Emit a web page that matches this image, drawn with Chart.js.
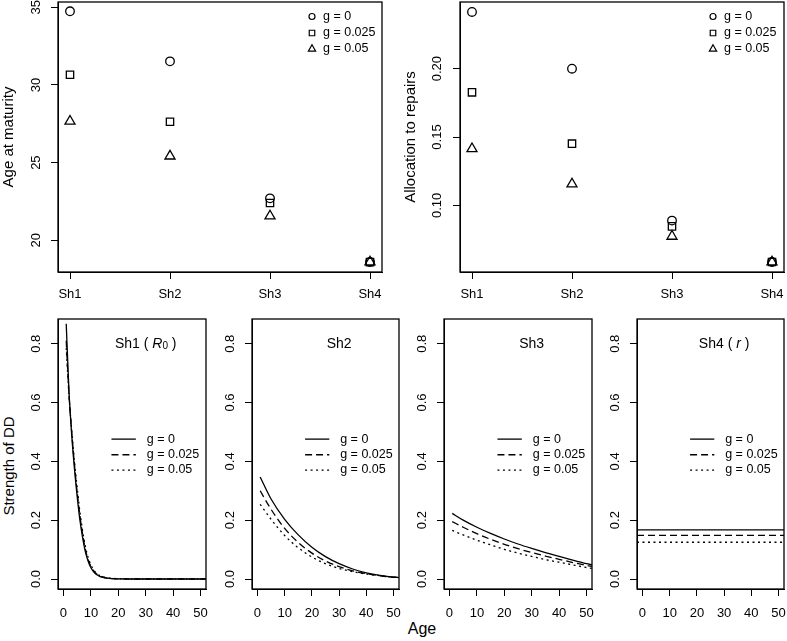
<!DOCTYPE html>
<html>
<head>
<meta charset="utf-8">
<script src="https://cdn.jsdelivr.net/npm/chart.js@4.4.1/dist/chart.umd.min.js"></script>
<style>
html,body{margin:0;padding:0;background:#fff;width:787px;height:641px;overflow:hidden;position:relative;}
.panel{position:absolute;}
.lbl{position:absolute;color:#000;white-space:nowrap;font-family:"Liberation Sans",Arial,Helvetica,sans-serif;line-height:1;}
</style>
</head>
<body>
<div class="lbl" id="ylabDD" style="left:8px;top:466px;font-size:15px;transform:translate(-50%,-50%) rotate(-90deg);">Strength of DD</div>
<div class="lbl" id="xlabAge" style="left:422px;top:621px;font-size:16px;transform:translate(-50%,0);">Age</div>
<script>
// ---------------- data ----------------
const shapeCats = ['Sh1', 'Sh2', 'Sh3', 'Sh4'];
const shapePos = [1, 2, 3, 4];
const gLabels = ['g = 0', 'g = 0.025', 'g = 0.05'];

// Top-left: age at maturity
const ageMat_g0   = [34.74, 31.52, 22.70, 18.60];
const ageMat_g025 = [30.66, 27.63, 22.40, 18.60];
const ageMat_g05  = [27.66, 25.42, 21.56, 18.60];
const ageMatTicks = [20, 25, 30, 35];
const ageMatTickLabels = ['20', '25', '30', '35'];

// Top-right: allocation to repairs
const repair_g0   = [0.2415, 0.2000, 0.0888, 0.0585];
const repair_g025 = [0.1827, 0.1451, 0.0846, 0.0585];
const repair_g05  = [0.1414, 0.1156, 0.0773, 0.0585];
const repairTicks = [0.10, 0.15, 0.20];
const repairTickLabels = ['0.10', '0.15', '0.20'];

// Bottom: strength of density dependence vs age
const ageSh1 = [1, 2, 3, 4, 5, 6, 7, 8, 9, 10, 11, 12, 13, 14, 15, 16, 18, 20, 25, 30, 40, 52];
const sh1_g0   = [0.868, 0.64, 0.49, 0.375, 0.28, 0.20, 0.14, 0.092, 0.060, 0.038, 0.024, 0.015, 0.010, 0.006, 0.004, 0.003, 0.001, 0.0005, 0, 0, 0, 0];
const sh1_g025 = [0.810, 0.63, 0.50, 0.390, 0.295, 0.215, 0.150, 0.100, 0.066, 0.043, 0.028, 0.018, 0.012, 0.008, 0.005, 0.003, 0.0015, 0.0005, 0, 0, 0, 0];
const sh1_g05  = [0.785, 0.625, 0.505, 0.400, 0.310, 0.228, 0.162, 0.110, 0.073, 0.048, 0.031, 0.020, 0.013, 0.009, 0.006, 0.004, 0.002, 0.001, 0, 0, 0, 0];

const ageSh23 = [1, 5, 10, 15, 20, 25, 30, 35, 40, 45, 50, 52];
const sh2_g0   = [0.347, 0.272, 0.203, 0.150, 0.108, 0.076, 0.052, 0.034, 0.021, 0.012, 0.006, 0.005];
const sh2_g025 = [0.300, 0.237, 0.172, 0.124, 0.088, 0.061, 0.042, 0.028, 0.018, 0.011, 0.006, 0.005];
const sh2_g05  = [0.254, 0.203, 0.148, 0.106, 0.075, 0.052, 0.036, 0.025, 0.017, 0.011, 0.006, 0.005];

const sh3_g0   = [0.223, 0.200, 0.176, 0.155, 0.136, 0.119, 0.104, 0.090, 0.077, 0.064, 0.052, 0.048];
const sh3_g025 = [0.195, 0.176, 0.154, 0.135, 0.118, 0.103, 0.090, 0.078, 0.067, 0.056, 0.046, 0.043];
const sh3_g05  = [0.165, 0.150, 0.132, 0.116, 0.101, 0.088, 0.077, 0.066, 0.057, 0.048, 0.039, 0.036];

const ageSh4 = [-2, 52];
const sh4_g0   = [0.167, 0.167];
const sh4_g025 = [0.148, 0.148];
const sh4_g05  = [0.125, 0.125];

const ageTicks = [0, 10, 20, 30, 40, 50];
const ddTicks = [0, 0.2, 0.4, 0.6, 0.8];
const ddTickLabels = ['0.0', '0.2', '0.4', '0.6', '0.8'];

// ---------------- drawing ----------------
const FONT = '"Liberation Sans", Arial, Helvetica, sans-serif';
const TICK = 13;
Chart.defaults.font.family = FONT;
Chart.defaults.color = '#000';

const pointStyles = ['circle', 'rect', 'triangle'];
const pointRadii = [4.3, 5.2, 5.8];
const legendRadii = [3.0, 3.9, 4.2];
const dashes = [[], [7, 4], [2, 3.5]];

function pts(xs, ys) { return xs.map((x, i) => ({x: x, y: ys[i]})); }

function drawMarker(ctx, style, r, x, y) {
  ctx.beginPath();
  if (style === 'circle') {
    ctx.arc(x, y, r, 0, Math.PI * 2);
  } else if (style === 'rect') {
    const s = Math.SQRT1_2 * r;
    ctx.rect(x - s, y - s, 2 * s, 2 * s);
  } else {
    const w = r * Math.sqrt(3) / 2;
    ctx.moveTo(x, y - r);
    ctx.lineTo(x + w, y + r / 2);
    ctx.lineTo(x - w, y + r / 2);
    ctx.closePath();
  }
  ctx.stroke();
}

function makePanel(cfg) {
  const ML = 60, MT = 20, MR = 25, MB = 50;
  const w = (cfg.R - cfg.L) + ML + MR, h = (cfg.B - cfg.T) + MT + MB;
  const div = document.createElement('div');
  div.className = 'panel';
  div.style.left = (cfg.L - ML) + 'px';
  div.style.top = (cfg.T - MT) + 'px';
  div.style.width = w + 'px';
  div.style.height = h + 'px';
  const cv = document.createElement('canvas');
  cv.width = w; cv.height = h;
  cv.style.width = w + 'px'; cv.style.height = h + 'px';
  div.appendChild(cv);
  document.body.appendChild(div);

  const notes = {
    id: 'notes',
    afterDraw(chart) {
      const ctx = chart.ctx, a = chart.chartArea, xs = chart.scales.x, ys = chart.scales.y;
      ctx.save();
      ctx.strokeStyle = '#000';
      ctx.lineWidth = 1.3;
      ctx.setLineDash([]);
      ctx.strokeRect(a.left, a.top, a.right - a.left, a.bottom - a.top);
      // rotated y tick labels
      ctx.fillStyle = '#000';
      ctx.font = TICK + 'px ' + FONT;
      ctx.textAlign = 'center';
      ctx.textBaseline = 'middle';
      cfg.yTicks.forEach((v, i) => {
        const py = ys.getPixelForValue(v);
        ctx.save();
        ctx.translate(a.left - cfg.yLabOff, py);
        ctx.rotate(-Math.PI / 2);
        ctx.fillText(cfg.yTickLabels[i], 0, 0);
        ctx.restore();
      });
      // panel title
      if (cfg.title) {
        const segs = cfg.title;
        const size = 14;
        const fontFor = s => (s.it ? 'italic ' : '') + (s.sub ? 10 : size) + 'px ' + FONT;
        let total = 0;
        segs.forEach(s => { ctx.font = fontFor(s); total += ctx.measureText(s.t).width; });
        let x = xs.getPixelForValue(cfg.titleAt[0]) - total / 2;
        const y = ys.getPixelForValue(cfg.titleAt[1]);
        ctx.textAlign = 'left';
        ctx.textBaseline = 'middle';
        segs.forEach(s => {
          ctx.font = fontFor(s);
          ctx.fillText(s.t, x, y + (s.sub ? 3 : 0));
          x += ctx.measureText(s.t).width;
        });
      }
      // legends
      ctx.font = '12.5px ' + FONT;
      ctx.textAlign = 'left';
      ctx.textBaseline = 'middle';
      ctx.lineWidth = 1.2;
      if (cfg.pointLegend) {
        const lg = cfg.pointLegend;
        gLabels.forEach((lab, i) => {
          const y = a.top + lg.rows[i];
          drawMarker(ctx, pointStyles[i], legendRadii[i], a.right - lg.sym, y);
          ctx.fillText(lab, a.right - lg.txt, y);
        });
      }
      if (cfg.lineLegend) {
        const lg = cfg.lineLegend;
        gLabels.forEach((lab, i) => {
          const y = ys.getPixelForValue(lg.rows[i]);
          ctx.setLineDash(dashes[i]);
          ctx.lineWidth = 1.3;
          ctx.beginPath();
          ctx.moveTo(xs.getPixelForValue(lg.x0), y);
          ctx.lineTo(xs.getPixelForValue(lg.x1), y);
          ctx.stroke();
          ctx.setLineDash([]);
          ctx.fillText(lab, xs.getPixelForValue(lg.xt), y);
        });
      }
      ctx.restore();
    }
  };

  const yScale = {
    type: 'linear', min: cfg.yMin, max: cfg.yMax,
    afterBuildTicks: s => { s.ticks = cfg.yTicks.map(v => ({value: v})); },
    afterFit: s => { s.width = ML; },
    ticks: {display: false},
    grid: {drawOnChartArea: false, drawTicks: true, tickLength: 7, color: '#000', lineWidth: 1},
    border: {display: true, color: '#000', width: 1}
  };
  if (cfg.yTitle) {
    yScale.title = {display: true, text: cfg.yTitle, color: '#000', font: {size: 15, family: FONT}, padding: {top: 1.5, bottom: 0}};
  }

  new Chart(cv, {
    type: cfg.type,
    data: {datasets: cfg.datasets},
    options: {
      responsive: false, animation: false, devicePixelRatio: 1,
      layout: {padding: {left: 0, top: MT, right: MR, bottom: 0}},
      plugins: {legend: {display: false}, tooltip: {enabled: false}},
      scales: {
        x: {
          type: 'linear', min: cfg.xMin, max: cfg.xMax,
          afterBuildTicks: s => { s.ticks = cfg.xTicks.map(v => ({value: v})); },
          afterFit: s => { s.height = MB; },
          ticks: {
            callback: v => cfg.xLabel(v), autoSkip: false, maxRotation: 0, minRotation: 0,
            padding: cfg.xPad, color: '#000', font: {size: TICK, family: FONT}
          },
          grid: {drawOnChartArea: false, drawTicks: true, tickLength: 7, color: '#000', lineWidth: 1},
          border: {display: true, color: '#000', width: 1}
        },
        y: yScale
      }
    },
    plugins: [notes]
  });
}

function scatterSets(series) {
  return series.map((vals, i) => ({
    type: 'scatter', label: gLabels[i], data: pts(shapePos, vals),
    pointStyle: pointStyles[i], pointRadius: pointRadii[i], pointBorderWidth: 1.3,
    borderColor: '#000', backgroundColor: 'rgba(0,0,0,0)', borderWidth: 1.3, clip: false
  }));
}
function lineSets(xs, series) {
  return series.map((vals, i) => ({
    type: 'line', label: gLabels[i], data: pts(xs, vals),
    borderColor: '#000', borderWidth: 1.3, borderDash: dashes[i], pointRadius: 0,
    cubicInterpolationMode: 'monotone', fill: false
  }));
}

const catLabel = v => shapeCats[Math.round(v) - 1] || '';
const numLabel = v => String(v);

// top-left
makePanel({
  type: 'scatter', L: 58, R: 382, T: 2, B: 272,
  xMin: 0.88, xMax: 4.12, xTicks: shapePos, xLabel: catLabel, xPad: 7.5,
  yMin: 17.96, yMax: 35.34, yTicks: ageMatTicks, yTickLabels: ageMatTickLabels, yLabOff: 22,
  yTitle: 'Age at maturity',
  datasets: scatterSets([ageMat_g0, ageMat_g025, ageMat_g05]),
  pointLegend: {sym: 70, txt: 59, rows: [14.5, 31, 47]}
});
// top-right
makePanel({
  type: 'scatter', L: 460, R: 784, T: 2, B: 272,
  xMin: 0.88, xMax: 4.12, xTicks: shapePos, xLabel: catLabel, xPad: 7.5,
  yMin: 0.0512, yMax: 0.2488, yTicks: repairTicks, yTickLabels: repairTickLabels, yLabOff: 22.5,
  yTitle: 'Allocation to repairs',
  datasets: scatterSets([repair_g0, repair_g025, repair_g05]),
  pointLegend: {sym: 71, txt: 60, rows: [14.5, 31, 47]}
});

const bottomCommon = {
  type: 'line', T: 319, B: 589,
  xMin: -2, xMax: 52, xTicks: ageTicks, xLabel: numLabel, xPad: 10,
  yMin: -0.034, yMax: 0.884, yTicks: ddTicks, yTickLabels: ddTickLabels, yLabOff: 22,
  titleAt: [30, 0.8],
  lineLegend: {x0: 17.5, x1: 26.4, xt: 30.4, rows: [0.4756, 0.4224, 0.3705]}
};
makePanel(Object.assign({}, bottomCommon, {
  L: 58, R: 206,
  title: [{t: 'Sh1 ( '}, {t: 'R', it: true}, {t: '0', sub: true}, {t: ' )'}],
  datasets: lineSets(ageSh1, [sh1_g0, sh1_g025, sh1_g05])
}));
makePanel(Object.assign({}, bottomCommon, {
  L: 252, R: 399,
  title: [{t: 'Sh2'}],
  datasets: lineSets(ageSh23, [sh2_g0, sh2_g025, sh2_g05])
}));
makePanel(Object.assign({}, bottomCommon, {
  L: 444, R: 592,
  title: [{t: 'Sh3'}],
  datasets: lineSets(ageSh23, [sh3_g0, sh3_g025, sh3_g05])
}));
makePanel(Object.assign({}, bottomCommon, {
  L: 637, R: 784,
  title: [{t: 'Sh4 ( '}, {t: 'r', it: true}, {t: ' )'}],
  datasets: lineSets(ageSh4, [sh4_g0, sh4_g025, sh4_g05])
}));
</script>
</body>
</html>
